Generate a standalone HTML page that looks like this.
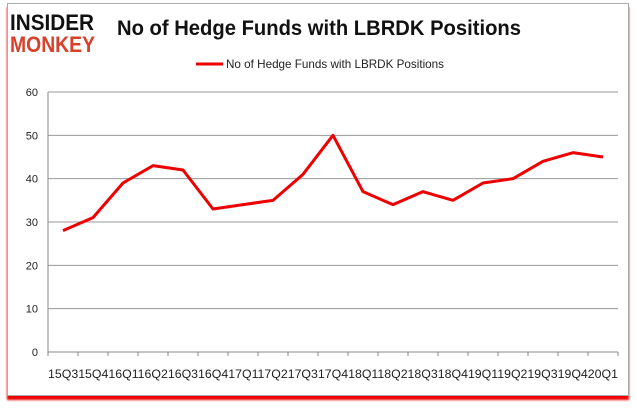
<!DOCTYPE html>
<html><head><meta charset="utf-8"><style>
body{margin:0;width:637px;height:408px;background:#fff;overflow:hidden;font-family:"Liberation Sans",sans-serif}
#frame{position:absolute;left:7px;top:3px;width:620px;height:391px;border:1px solid #aaa;background:#fff;box-shadow:0 4px 2px #e00}
</style></head><body>
<div id="frame"></div>
<svg width="637" height="408" style="position:absolute;left:0;top:0">
<g font-family="Liberation Sans,sans-serif" font-weight="bold">
<text x="10" y="30" font-size="22" fill="#111" textLength="84" lengthAdjust="spacingAndGlyphs">INSIDER</text>
<text x="10" y="52" font-size="22" fill="#d8402a" textLength="85" lengthAdjust="spacingAndGlyphs">MONKEY</text>
</g>
<text x="117" y="35" font-size="21" font-weight="bold" fill="#111" textLength="404" lengthAdjust="spacingAndGlyphs">No of Hedge Funds with LBRDK Positions</text>
<line x1="196" y1="64" x2="223" y2="64" stroke="#e00" stroke-width="3"/>
<text x="226" y="68" font-size="12" fill="#222" textLength="218" lengthAdjust="spacingAndGlyphs">No of Hedge Funds with LBRDK Positions</text>
<g id="grid"></g><g id="axes"></g><g id="series"></g>
</svg>
<script>
const categories=["15Q3","15Q4","16Q1","16Q2","16Q3","16Q4","17Q1","17Q2","17Q3","17Q4","18Q1","18Q2","18Q3","18Q4","19Q1","19Q2","19Q3","19Q4","20Q1"];
const values=[28,31,39,43,42,33,34,35,41,50,37,34,37,35,39,40,44,46,45];
const yTicks=[0,10,20,30,40,50,60];
const NS="http://www.w3.org/2000/svg";
const L=48,R=618,T=92,B=352,YMAX=60;
const step=(R-L)/categories.length;
const xs=i=>L+step*(i+0.5);
const ys=v=>B-(v/YMAX)*(B-T);
function mk(tag,attrs,parent){const e=document.createElementNS(NS,tag);for(const k in attrs)e.setAttribute(k,attrs[k]);parent.appendChild(e);return e;}
const grid=document.getElementById('grid'),axes=document.getElementById('axes'),series=document.getElementById('series');
yTicks.forEach(t=>{
 const y=ys(t);
 if(t>0){const g=mk('line',{x1:L,x2:R,y1:y,y2:y,stroke:'#999','stroke-width':1},grid);
 
 }
 const tl=mk('text',{x:L-10,y:y+4,'text-anchor':'end','font-size':11,fill:'#222'},axes);
 tl.textContent=t;
 
 
});
const ya=mk('line',{x1:L,x2:L,y1:T,y2:B,stroke:'#888'},axes);


const xa=mk('line',{x1:L,x2:R,y1:B,y2:B,stroke:'#888'},axes);


for(let i=0;i<=categories.length;i++){const x=L+step*i;const tk=mk('line',{x1:x,x2:x,y1:B,y2:B+4,stroke:'#888'},axes);
 
 }
const xl=mk('text',{x:L,y:378,'font-size':11.5,fill:'#222',textLength:R-L,lengthAdjust:'spacingAndGlyphs'},axes);
xl.textContent=categories.join('');


const line=mk('polyline',{points:values.map((v,i)=>xs(i)+','+ys(v)).join(' '),fill:'none',stroke:'#e00','stroke-width':3,'stroke-linejoin':'round'},series);


</script>
</body></html>
